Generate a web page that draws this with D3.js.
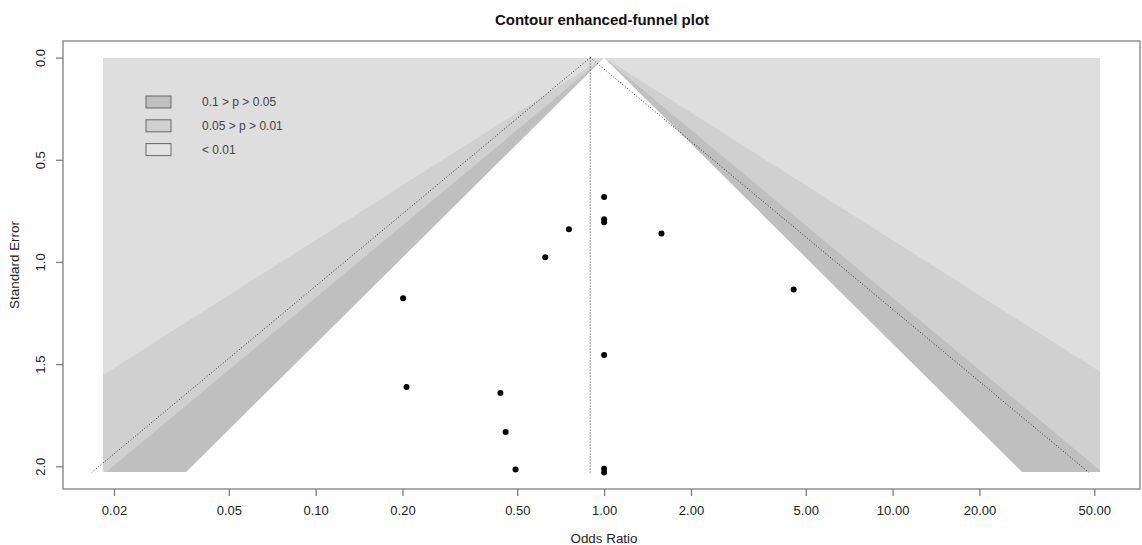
<!DOCTYPE html>
<html>
<head>
<meta charset="utf-8">
<script src="https://cdn.jsdelivr.net/npm/d3@7"></script>
<style>
  html, body { margin: 0; padding: 0; background: #ffffff; }
  svg { display: block; font-family: "Liberation Sans", Arial, sans-serif; }
</style>
</head>
<body>
<svg id="chart" width="1142" height="545"></svg>
<script>
// ---- data ----
const studyOR = [1.0, 1.0, 1.0, 0.755, 1.58, 0.625, 0.201, 4.54, 1.0, 0.2065, 0.437, 0.4555, 0.493, 1.0, 1.0];
const studySE = [0.682, 0.791, 0.806, 0.840, 0.861, 0.977, 1.178, 1.135, 1.455, 1.612, 1.641, 1.832, 2.016, 2.012, 2.03];
const contourP = [0.10, 0.05, 0.01];
const legendLabels = ["0.1 > p > 0.05", "0.05 > p > 0.01", "< 0.01"];
const estimateOR = 0.895;
const contourCenterOR = 1.0;
const xLimOR = [0.0183, 52.4];
const maxSE = 2.03;
const xTickValues = [0.02, 0.05, 0.10, 0.20, 0.50, 1.00, 2.00, 5.00, 10.00, 20.00, 50.00];
const xTickLabels = ["0.02", "0.05", "0.10", "0.20", "0.50", "1.00", "2.00", "5.00", "10.00", "20.00", "50.00"];
const yTickValues = [0, 0.5, 1.0, 1.5, 2.0];
const yTickLabels = ["0.0", "0.5", "1.0", "1.5", "2.0"];

// ---- layout ----
const svg = d3.select("#chart");
const L = 63, R = 1140, T = 41, B = 489;
const shadeLight = "#dedede", shadeMid = "#d0d0d0", shadeDark = "#bfbfbf";
const lineGray = "#7f7f7f";

// R-style 4% extension
const lx0 = Math.log10(xLimOR[0]), lx1 = Math.log10(xLimOR[1]);
const ex = 0.04 * (lx1 - lx0);
const x = d3.scaleLog().domain([Math.pow(10, lx0 - ex), Math.pow(10, lx1 + ex)]).range([L, R]);
const ey = 0.04 * maxSE;
const y = d3.scaleLinear().domain([-ey, maxSE + ey]).range([T, B]);

// normal quantile (Acklam approximation)
function qnorm(p) {
  const a = [-3.969683028665376e+01, 2.209460984245205e+02, -2.759285104469687e+02, 1.383577518672690e+02, -3.066479806614716e+01, 2.506628277459239e+00];
  const b = [-5.447609879822406e+01, 1.615858368580409e+02, -1.556989798598866e+02, 6.680131188771972e+01, -1.328068155288572e+01];
  const c = [-7.784894002430293e-03, -3.223964580411365e-01, -2.400758277161838e+00, -2.549732539343734e+00, 4.374664141464968e+00, 2.938163982698783e+00];
  const d = [7.784695709041462e-03, 3.224671290700398e-01, 2.445134137142996e+00, 3.754408661907416e+00];
  const pl = 0.02425;
  let q, r;
  if (p < pl) { q = Math.sqrt(-2 * Math.log(p)); return (((((c[0]*q+c[1])*q+c[2])*q+c[3])*q+c[4])*q+c[5]) / ((((d[0]*q+d[1])*q+d[2])*q+d[3])*q+1); }
  if (p <= 1 - pl) { q = p - 0.5; r = q*q; return (((((a[0]*r+a[1])*r+a[2])*r+a[3])*r+a[4])*r+a[5])*q / (((((b[0]*r+b[1])*r+b[2])*r+b[3])*r+b[4])*r+1); }
  q = Math.sqrt(-2 * Math.log(1 - p)); return -(((((c[0]*q+c[1])*q+c[2])*q+c[3])*q+c[4])*q+c[5]) / ((((d[0]*q+d[1])*q+d[2])*q+d[3])*q+1);
}

// contour region (pixel-aligned)
const cx0 = Math.round(x(xLimOR[0])), cx1 = Math.round(x(xLimOR[1]));
const cy0 = Math.round(y(0)), cy1 = Math.round(y(maxSE));
svg.append("defs").append("clipPath").attr("id", "cr")
  .append("rect").attr("x", cx0).attr("y", cy0).attr("width", cx1 - cx0).attr("height", cy1 - cy0);

const g = svg.append("g");
g.append("rect").attr("x", cx0).attr("y", cy0).attr("width", cx1 - cx0).attr("height", cy1 - cy0)
  .attr("fill", shadeLight).attr("shape-rendering", "crispEdges");

const c0 = Math.log(contourCenterOR);
const seEnd = maxSE + 0.05; // extend past clip edge to avoid seams
function triangle(z) {
  const pts = [[c0, 0], [c0 - z * seEnd, seEnd], [c0 + z * seEnd, seEnd]];
  return pts.map(p => [x(Math.exp(p[0])), y(p[1])].join(",")).join(" ");
}
const fills = [shadeMid, shadeDark, "#ffffff"]; // outer to inner
const zs = [qnorm(1 - contourP[2] / 2), qnorm(1 - contourP[1] / 2), qnorm(1 - contourP[0] / 2)];
zs.forEach((z, i) => {
  g.append("polygon").attr("points", triangle(z)).attr("fill", fills[i]).attr("clip-path", "url(#cr)");
});

// reference lines (dotted)
const e0 = Math.log(estimateOR);
const z95 = qnorm(0.975);
const dot = g.append("g").attr("fill", "none").attr("stroke", "#333").attr("stroke-width", 1).attr("stroke-dasharray", "1,2");
dot.append("line").attr("x1", x(estimateOR)).attr("x2", x(estimateOR)).attr("y1", y(0)).attr("y2", y(maxSE));
dot.append("line").attr("x1", x(estimateOR)).attr("y1", y(0)).attr("x2", x(Math.exp(e0 - z95 * maxSE))).attr("y2", y(maxSE));
dot.append("line").attr("x1", x(estimateOR)).attr("y1", y(0)).attr("x2", x(Math.exp(e0 + z95 * maxSE))).attr("y2", y(maxSE));

// points
g.selectAll("circle.pt").data(studyOR.map((o, i) => [o, studySE[i]])).join("circle")
  .attr("class", "pt")
  .attr("cx", d => x(d[0])).attr("cy", d => y(d[1])).attr("r", 3).attr("fill", "#000");

// box
svg.append("rect").attr("x", L).attr("y", T).attr("width", R - L).attr("height", B - T)
  .attr("fill", "none").attr("stroke", lineGray).attr("stroke-width", 1.3);

// x axis
const xAxis = d3.axisBottom(x).tickValues(xTickValues)
  .tickFormat((d, i) => xTickLabels[i]).tickSize(7).tickPadding(10).tickSizeOuter(0);
const gx = svg.append("g").attr("transform", `translate(0,${B})`).call(xAxis);
gx.select(".domain").remove();
gx.selectAll(".tick line").attr("stroke", lineGray).attr("stroke-width", 1.3);
gx.selectAll(".tick text").attr("fill", "#222").style("font-size", "13px").style("font-family", "Liberation Sans, Arial, sans-serif");

// y axis
const yAxis = d3.axisLeft(y).tickValues(yTickValues)
  .tickFormat((d, i) => yTickLabels[i]).tickSize(7).tickSizeOuter(0);
const gy = svg.append("g").attr("transform", `translate(${L},0)`).call(yAxis);
gy.select(".domain").remove();
gy.selectAll(".tick line").attr("stroke", lineGray).attr("stroke-width", 1.3);
gy.selectAll(".tick text")
  .attr("transform", "rotate(-90)")
  .attr("x", 0).attr("y", -23).attr("dy", "0.35em")
  .attr("text-anchor", "middle")
  .attr("fill", "#222").style("font-size", "13px").style("font-family", "Liberation Sans, Arial, sans-serif");

// titles
svg.append("text").attr("x", 602).attr("y", 25).attr("text-anchor", "middle")
  .style("font-size", "15px").style("font-weight", "bold").attr("fill", "#111")
  .text("Contour enhanced-funnel plot");
svg.append("text").attr("x", 604).attr("y", 543).attr("text-anchor", "middle")
  .style("font-size", "13.4px").attr("fill", "#222").text("Odds Ratio");
svg.append("text").attr("transform", `translate(19,${(T + B) / 2}) rotate(-90)`).attr("text-anchor", "middle")
  .style("font-size", "13.4px").attr("fill", "#222").text("Standard Error");

// legend
const legendFills = [shadeDark, shadeMid, "#e3e3e3"];
const lg = svg.append("g");
legendLabels.forEach((lab, i) => {
  const cy = 102 + i * 23.8;
  lg.append("rect").attr("x", 146).attr("y", cy - 6).attr("width", 25).attr("height", 12)
    .attr("fill", legendFills[i]).attr("stroke", "#666").attr("stroke-width", 1);
  lg.append("text").attr("x", 202).attr("y", cy).attr("dy", "0.35em")
    .style("font-size", "12px").attr("fill", "#444").text(lab);
});
</script>
</body>
</html>
